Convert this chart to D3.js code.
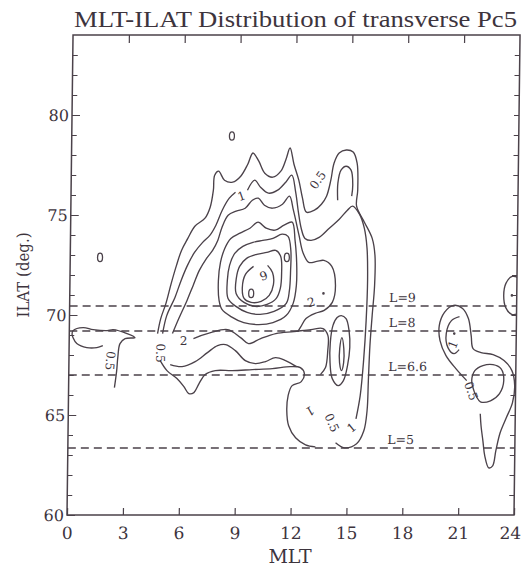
<!DOCTYPE html>
<html>
<head>
<meta charset="utf-8">
<script src="https://cdn.jsdelivr.net/npm/d3@7"></script>
<style>
  body { margin: 0; background: #fff; }
  text { font-family: "DejaVu Serif", "Liberation Serif", serif; fill: #3d343d; }
</style>
</head>
<body>
<script>
// axis values
const mltTicks = [0, 3, 6, 9, 12, 15, 18, 21, 24];
const mltInner = [3, 6, 9, 12, 15, 18, 21];
const ilatTicks = [60, 65, 70, 75, 80];
const ilatMinor = d3.range(61, 84);

// L-shell reference lines
const lShellNames = ["L=9", "L=8", "L=6.6", "L=5"];
const lShellIlat = [70.45, 69.2, 67.0, 63.35];

// contour lines, [MLT, ILAT]
const dawnBlob = [[1.81,68.47],[1.49,68.37],[0.95,68.37],[0.41,68.57],[0.2,68.87],[0.15,69.05],[0.2,69.22],[0.74,69.37],[1.28,69.27],[2.03,69.22],[2.35,69.27],[3.1,69.07],[3.53,68.87],[3.0,68.82],[2.73,68.57],[2.62,67.87],[2.57,67.22],[2.46,66.37]];

const outer05 = [[4.74,69.07],[4.90,69.82],[5.17,70.58],[5.44,71.58],[5.71,72.48],[5.97,73.23],[6.30,73.83],[6.67,74.44],[7.21,74.84],[7.48,75.39],[7.64,76.24],[7.70,76.99],[7.91,77.19],[8.23,76.74],[8.67,76.64],[9.10,76.94],[9.47,77.54],[9.74,78.10],[10.06,77.69],[10.39,77.09],[10.82,76.89],[11.25,77.19],[11.52,77.79],[11.73,78.35],[11.95,77.54],[12.22,76.74],[12.43,75.84],[12.65,75.14],[13.08,75.24],[13.45,75.54],[13.72,75.94],[13.94,76.74],[14.10,77.59],[14.37,78.10],[14.75,78.25],[15.12,78.15],[15.34,77.59],[15.39,76.24],[15.34,75.44],[15.77,74.64],[16.20,73.83],[16.36,72.98],[16.36,71.48],[16.25,69.97],[16.15,68.47],[16.09,66.72],[16.04,65.21],[15.88,64.21],[15.50,63.56],[14.85,63.36],[14.37,63.61]];

const ring1a = [[5.01,69.07],[5.22,69.97],[5.65,70.88],[5.97,71.73],[6.30,72.48],[6.67,73.13],[7.10,73.63],[7.48,73.98],[7.80,74.49],[8.13,75.24],[8.50,75.84],[8.83,76.14]];
const ring1b = [[9.47,76.24],[9.85,76.74],[10.17,76.39],[10.60,76.09],[11.09,76.24],[11.52,76.64],[11.84,76.99],[12.06,76.14],[12.22,75.14],[12.38,74.34],[12.59,73.83],[12.92,73.73],[13.35,73.88],[13.89,74.34],[14.42,74.79],[14.85,75.24],[15.12,75.44],[15.50,75.04],[15.77,74.34],[15.93,73.33],[15.98,71.73],[15.93,69.72],[15.82,67.72],[15.66,65.96],[15.45,64.81]];
const hook1 = [[14.32,75.74],[14.32,76.59],[14.48,77.24],[14.75,77.44],[15.02,77.24],[15.12,76.49],[15.07,75.94]];

const ring2 = [[5.54,69.07],[5.87,69.82],[6.30,70.73],[6.62,71.48],[6.94,72.23],[7.32,72.83],[7.64,73.23],[7.91,73.73],[8.13,74.39],[8.45,74.99],[8.88,75.19],[9.36,75.34],[9.74,75.74],[10.06,75.84],[10.39,75.49],[10.82,75.34],[11.36,75.54],[11.73,75.94],[11.95,75.24],[12.27,73.98],[12.49,73.13],[12.81,72.63],[13.24,72.68],[13.62,72.73],[14.05,72.43],[14.26,71.48],[14.10,70.63],[13.67,70.23],[13.19,70.08],[12.70,69.82],[12.43,69.42],[12.27,69.17]];

const lineC = [[13.51,67.02],[13.78,67.37],[13.89,68.22],[13.89,68.97],[13.62,69.32],[12.97,69.27],[12.06,69.17],[11.09,69.07],[10.28,68.82],[9.63,68.57],[9.20,68.87],[8.50,69.27],[7.59,69.12],[6.67,68.82]];
const lineD = [[5.44,67.52],[6.08,67.42],[6.78,67.67],[7.43,68.12],[7.97,68.47],[8.40,68.52],[8.93,68.22],[9.47,67.72],[10.01,67.57],[10.55,67.67],[11.09,67.87],[11.63,67.72],[12.22,67.42]];
const lineE = [[4.90,67.72],[5.27,67.22],[5.81,66.82],[6.19,66.42],[6.46,66.07],[6.73,66.12],[7.00,66.57],[7.32,67.02],[7.86,67.22],[8.77,67.22],[9.85,67.27],[10.93,67.32],[11.89,67.42],[12.43,67.37],[12.65,67.07],[12.49,66.67],[12.00,66.47],[11.79,65.96],[11.73,65.21],[11.84,64.46],[12.22,63.86],[12.76,63.51],[13.29,63.41]];

const ring3 = [[8.02,70.73],[7.97,71.73],[8.07,72.63],[8.29,73.33],[8.61,73.83],[9.10,74.09],[9.63,74.34],[10.06,74.64],[10.50,74.34],[10.98,74.24],[11.46,74.49],[11.89,74.64],[12.06,73.73],[12.16,72.63],[12.16,71.48],[12.00,70.58],[11.63,69.97],[10.93,69.62],[10.17,69.52],[9.36,69.62],[8.67,69.92],[8.18,70.28]];
const ring4 = [[8.50,70.83],[8.45,71.73],[8.56,72.48],[8.83,73.08],[9.26,73.43],[9.80,73.63],[10.33,73.73],[10.87,73.83],[11.36,74.04],[11.68,73.93],[11.84,73.23],[11.84,72.23],[11.79,71.23],[11.63,70.58],[10.98,70.18],[10.23,70.03],[9.53,70.13],[8.93,70.43]];
const ring5 = [[8.93,71.08],[8.93,71.83],[9.10,72.43],[9.47,72.83],[10.01,73.03],[10.55,73.13],[11.03,73.23],[11.30,72.93],[11.36,72.13],[11.30,71.33],[11.09,70.83],[10.60,70.53],[9.96,70.43],[9.36,70.63]];
const ring6 = [[9.85,72.43],[9.42,72.03],[9.26,71.38],[9.36,70.83],[9.74,70.63],[10.28,70.68],[10.71,70.98],[10.93,71.53],[10.87,72.13],[10.60,72.48]];

const towerOval = [[14.59,69.97],[14.85,69.82],[15.02,69.22],[15.07,68.37],[14.96,67.47],[14.75,66.72],[14.48,66.47],[14.15,66.82],[14.02,67.62],[14.02,68.62],[14.15,69.47],[14.37,69.87]];
const towerCore = [[14.64,68.87],[14.75,68.32],[14.75,67.62],[14.64,67.22],[14.53,67.62],[14.53,68.32]];

const duskLoop = [[21.37,66.72],[20.78,67.32],[20.24,67.97],[19.91,68.72],[19.86,69.47],[20.13,70.13],[20.61,70.48],[21.10,70.33],[21.42,69.82],[21.58,68.97],[21.69,68.32],[22.12,68.12],[22.77,68.02],[23.36,67.72],[23.79,67.22],[23.95,66.47],[23.84,65.61],[23.52,64.86],[23.20,64.11],[22.98,63.21],[22.82,62.46],[22.61,62.36],[22.39,62.96],[22.28,63.71],[22.17,64.46],[22.12,65.06]];
const duskInner = [[20.94,69.92],[20.51,69.72],[20.24,69.07],[20.34,68.37],[20.67,68.07],[20.94,68.27]];
const duskLobe = [[21.80,66.12],[21.64,66.72],[21.80,67.22],[22.23,67.47],[22.77,67.52],[23.20,67.32],[23.36,66.72],[23.14,66.07],[22.66,65.71],[22.12,65.66],[21.91,65.91]];
const edgeOval = [[24.17,71.83],[23.74,71.93],[23.41,71.58],[23.30,70.98],[23.41,70.38],[23.74,70.03],[24.11,70.08]];

const openLines = [dawnBlob, outer05, ring1a, ring1b, hook1, ring2, lineC, lineD, lineE, ring6, duskLoop, duskInner, edgeOval];
const closedLines = [ring3, ring4, ring5, towerOval, towerCore, duskLobe];

// contour labels
const labelText = ["0.5", "1", "6", "2", "0.5", "0.5", "2", "1", "0.5", "1", "1", "0.5"];
const labelMlt = [13.25, 9.15, 10.39, 6.14, 4.90, 2.21, 12.97, 15.23, 14.15, 12.97, 20.61, 21.60];
const labelIlat = [76.74, 75.94, 71.98, 68.72, 68.10, 67.72, 70.63, 64.36, 64.61, 65.21, 68.52, 66.20];
const labelAngle = [-55, -20, 160, 0, 90, 95, -15, -40, 65, 150, -70, 70];

// tiny closed contours and dots
const ovalMlt = [8.6, 1.6, 11.63, 9.74];
const ovalIlat = [78.95, 72.88, 72.88, 71.08];
const dotMlt = [13.62, 20.67, 23.74];
const dotIlat = [71.08, 69.07, 70.98];

const W = 524, H = 573;
const ink = "#4b424a";

const svg = d3.select("body").append("svg").attr("width", W).attr("height", H);
svg.append("rect").attr("width", W).attr("height", H).attr("fill", "#fff");

const x = d3.scaleLinear().domain([0, 24]).range([67, 514]);
const y = d3.scaleLinear().domain([60, 84]).range([515, 35]);

// the scanned figure leans slightly to the right at the top
const g = svg.append("g").attr("transform", "translate(0,515) skewX(-0.72) translate(0,-515)");

g.append("clipPath").attr("id", "plot")
  .append("rect")
  .attr("x", x(0)).attr("y", y(84))
  .attr("width", x(24) - x(0)).attr("height", y(60) - y(84));

// axes
const styleAxis = sel => {
  sel.select(".domain").remove();
  sel.selectAll("line").attr("stroke", ink).attr("stroke-width", 1.2);
  sel.attr("font-family", null).attr("font-size", null);
};

g.append("g").attr("transform", `translate(0,${y(60)})`)
  .call(d3.axisBottom(x).tickValues(mltTicks).tickSizeInner(-7).tickSizeOuter(0).tickPadding(12))
  .call(styleAxis)
  .selectAll("text")
  .style("font-size", "17px")
  .attr("dx", d => d === 24 ? -4 : 0);

g.append("g").attr("transform", `translate(0,${y(84)})`)
  .call(d3.axisTop(x).tickValues(mltInner).tickSizeInner(-8).tickSizeOuter(0).tickFormat(""))
  .call(styleAxis);

g.append("g").attr("transform", `translate(${x(0)},0)`)
  .call(d3.axisLeft(y).tickValues(ilatMinor).tickSizeInner(-5).tickSizeOuter(0).tickFormat(""))
  .call(styleAxis);

g.append("g").attr("transform", `translate(${x(0)},0)`)
  .call(d3.axisLeft(y).tickValues(ilatTicks).tickSizeInner(-8).tickSizeOuter(0).tickPadding(3))
  .call(styleAxis)
  .selectAll("text").style("font-size", "16px");

g.append("g").attr("transform", `translate(${x(24)},0)`)
  .call(d3.axisRight(y).tickValues(ilatMinor).tickSizeInner(-5).tickSizeOuter(0).tickFormat(""))
  .call(styleAxis);

g.append("rect")
  .attr("x", x(0)).attr("y", y(84))
  .attr("width", x(24) - x(0)).attr("height", y(60) - y(84))
  .attr("fill", "none").attr("stroke", ink).attr("stroke-width", 1.5);

// L-shell dashed lines
g.selectAll(".lshell").data(lShellIlat).join("line")
  .attr("class", "lshell")
  .attr("x1", x(0)).attr("x2", x(24))
  .attr("y1", d => y(d)).attr("y2", d => y(d))
  .attr("stroke", ink).attr("stroke-width", 1.6)
  .attr("stroke-dasharray", "8,5");

g.selectAll(".lname").data(lShellIlat).join("text")
  .attr("class", "lname")
  .attr("x", x(17.15)).attr("y", d => y(d) - 4)
  .style("font-size", "12.5px")
  .text((d, i) => lShellNames[i]);

// contours
const plot = g.append("g").attr("clip-path", "url(#plot)");
const line = d3.line().x(d => x(d[0])).y(d => y(d[1])).curve(d3.curveCatmullRom.alpha(0.5));
const loop = d3.line().x(d => x(d[0])).y(d => y(d[1])).curve(d3.curveCatmullRomClosed.alpha(0.5));

plot.selectAll(".open").data(openLines).join("path")
  .attr("class", "open")
  .attr("d", line)
  .attr("fill", "none").attr("stroke", ink).attr("stroke-width", 1.35);

plot.selectAll(".closed").data(closedLines).join("path")
  .attr("class", "closed")
  .attr("d", loop)
  .attr("fill", "none").attr("stroke", ink).attr("stroke-width", 1.35);

plot.selectAll(".oval").data(ovalMlt).join("ellipse")
  .attr("class", "oval")
  .attr("cx", d => x(d)).attr("cy", (d, i) => y(ovalIlat[i]))
  .attr("rx", 2.5).attr("ry", 4.2)
  .attr("fill", "none").attr("stroke", ink).attr("stroke-width", 1.3);

plot.selectAll(".dot").data(dotMlt).join("circle")
  .attr("class", "dot")
  .attr("cx", d => x(d)).attr("cy", (d, i) => y(dotIlat[i]))
  .attr("r", 1.3).attr("fill", ink);

plot.selectAll(".clabel").data(labelText).join("text")
  .attr("class", "clabel")
  .attr("transform", (d, i) => `translate(${x(labelMlt[i])},${y(labelIlat[i])}) rotate(${labelAngle[i]})`)
  .attr("text-anchor", "middle").attr("dominant-baseline", "central")
  .style("font-size", "12px")
  .text(d => d);

// titles
svg.append("text")
  .attr("x", 74).attr("y", 27)
  .attr("textLength", 443).attr("lengthAdjust", "spacingAndGlyphs")
  .style("font-family", "'Liberation Serif', serif")
  .style("font-size", "24px")
  .text("MLT-ILAT Distribution of transverse Pc5");

svg.append("text")
  .attr("x", 290).attr("y", 563)
  .attr("text-anchor", "middle")
  .style("font-size", "19px")
  .text("MLT");

svg.append("text")
  .attr("transform", "translate(23,275) rotate(-90)")
  .attr("text-anchor", "middle").attr("dominant-baseline", "central")
  .attr("textLength", 85).attr("lengthAdjust", "spacingAndGlyphs")
  .style("font-size", "17px")
  .text("ILAT (deg.)");
</script>
</body>
</html>
